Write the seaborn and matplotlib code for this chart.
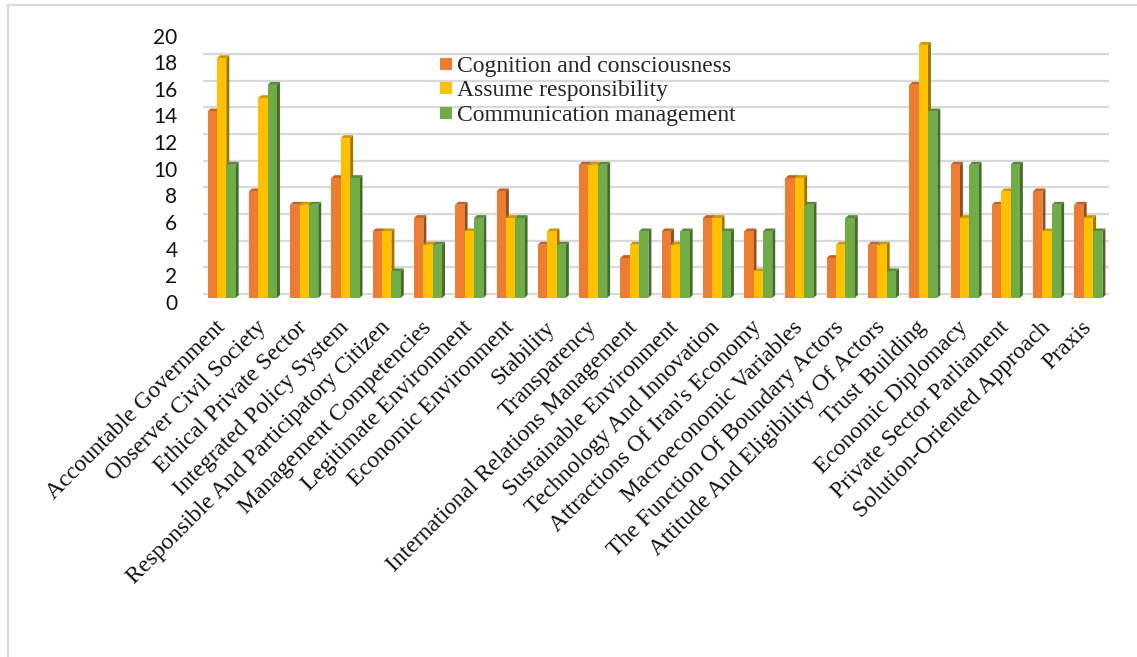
import pandas as pd
import seaborn as sns
from matplotlib import pyplot as plt
from matplotlib.patches import Polygon
from matplotlib.lines import Line2D
from matplotlib.font_manager import FontProperties
import matplotlib.transforms as mtransforms
import matplotlib.colors as mcolors

categories = [
    "Accountable Government",
    "Observer Civil Society",
    "Ethical Private Sector",
    "Integrated Policy System",
    "Responsible And Participatory Citizen",
    "Management Competencies",
    "Legitimate Environment",
    "Economic Environment",
    "Stability",
    "Transparency",
    "International Relations Management",
    "Sustainable Environment",
    "Technology And Innovation",
    "Attractions Of Iran's Economy",
    "Macroeconomic Variables",
    "The Function Of Boundary Actors",
    "Attitude And Eligibility Of Actors",
    "Trust Building",
    "Economic Diplomacy",
    "Private Sector Parliament",
    "Solution-Oriented Approach",
    "Praxis",
]

cognition = [14, 8, 7, 9, 5, 6, 7, 8, 4, 10, 3, 5, 6, 5, 9, 3, 4, 16, 10, 7, 8, 7]
responsibility = [18, 15, 7, 12, 5, 4, 5, 6, 5, 10, 4, 4, 6, 2, 9, 4, 4, 19, 6, 8, 5, 6]
communication = [10, 16, 7, 9, 2, 4, 6, 6, 4, 10, 5, 5, 5, 5, 7, 6, 2, 14, 10, 10, 7, 5]

series_names = [
    "Cognition and consciousness",
    "Assume responsibility",
    "Communication management",
]
y_ticks = [0, 2, 4, 6, 8, 10, 12, 14, 16, 18, 20]

PALETTE = {
    series_names[0]: "#ED7D31",
    series_names[1]: "#FFC000",
    series_names[2]: "#70AD47",
}
GRID = "#d9d9d9"

df = pd.DataFrame({
    "category": categories * 3,
    "series": [series_names[0]] * len(categories)
    + [series_names[1]] * len(categories)
    + [series_names[2]] * len(categories),
    "value": cognition + responsibility + communication,
})

sns.set_style("white")
plt.rcParams["font.family"] = ["Liberation Serif", "DejaVu Serif"]

fig = plt.figure(figsize=(11.37, 6.57), dpi=100)
ax = fig.add_axes([0.1768, 0.5464, 0.7986, 0.4056])

sns.barplot(
    data=df, x="category", y="value", hue="series",
    hue_order=series_names, order=categories,
    palette=PALETTE, width=0.68, saturation=1,
    linewidth=0, legend=False, ax=ax,
)

# fake 3D: side and top faces on each bar
dx, dy = 0.072, 0.22
for i, cont in enumerate(ax.containers):
    z = 3 + i
    for bar in cont:
        x, w, h = bar.get_x(), bar.get_width(), bar.get_height()
        base = mcolors.to_rgb(bar.get_facecolor())
        side = tuple(c * 0.62 for c in base)
        top = tuple(c * 0.8 for c in base)
        bar.set_zorder(z)
        ax.add_patch(Polygon(
            [(x + w, 0), (x + w + dx, dy), (x + w + dx, h + dy), (x + w, h)],
            closed=True, facecolor=side, edgecolor="none", zorder=z - 0.01))
        ax.add_patch(Polygon(
            [(x, h), (x + dx, h + dy), (x + w + dx, h + dy), (x + w, h)],
            closed=True, facecolor=top, edgecolor="none", zorder=z - 0.01))

ax.set_xlim(-0.5, len(categories) - 0.5)
ax.set_ylim(0, 20)
ax.set_xlabel("")
ax.set_ylabel("")
sns.despine(ax=ax, left=True, bottom=True)

# gridlines sit on the back wall, a few pixels up and right of the bars
ax.yaxis.grid(True, color=GRID, linewidth=1.6)
ax.set_axisbelow(True)
shift = mtransforms.ScaledTranslation(3 / 100, 4 / 100, fig.dpi_scale_trans)
for gl in ax.get_ygridlines():
    gl.set_transform(gl.get_transform() + shift)

ax.set_yticks(y_ticks)
ax.set_xticks(range(len(categories)))
ax.set_xticklabels(categories, rotation=45, ha="right", va="center",
                   rotation_mode="anchor")
ax.tick_params(axis="both", length=0, labelcolor="#111111")
ax.tick_params(axis="y", pad=17)
ax.tick_params(axis="x", pad=19)

ydown = mtransforms.ScaledTranslation(0, -4 / 100, fig.dpi_scale_trans)
for lab in ax.get_xticklabels():
    lab.set_fontproperties(FontProperties(family="Liberation Serif", size=17))
for lab in ax.get_yticklabels():
    lab.set_fontproperties(FontProperties(family="Lato", size=15))
    lab.set_transform(lab.get_transform() + ydown)

handles = [Line2D([], [], marker="s", linestyle="none", markersize=8.5,
                  markerfacecolor=PALETTE[n], markeredgewidth=0)
           for n in series_names]
ax.legend(handles, series_names, loc="upper left",
          bbox_to_anchor=(0.262, 0.91), frameon=False,
          handlelength=0.6, handletextpad=0.15, labelspacing=0.12,
          borderaxespad=0, borderpad=0,
          prop=FontProperties(family="Liberation Serif", size=17))

# thin frame on top and left, like the cropped chart border
fig.add_artist(Line2D([8 / 1137, 1], [1 - 5 / 657, 1 - 5 / 657],
                      color=GRID, linewidth=1.6, transform=fig.transFigure))
fig.add_artist(Line2D([8 / 1137, 8 / 1137], [0, 1 - 5 / 657],
                      color=GRID, linewidth=1.6, transform=fig.transFigure))

plt.savefig("out.png", dpi=100)
